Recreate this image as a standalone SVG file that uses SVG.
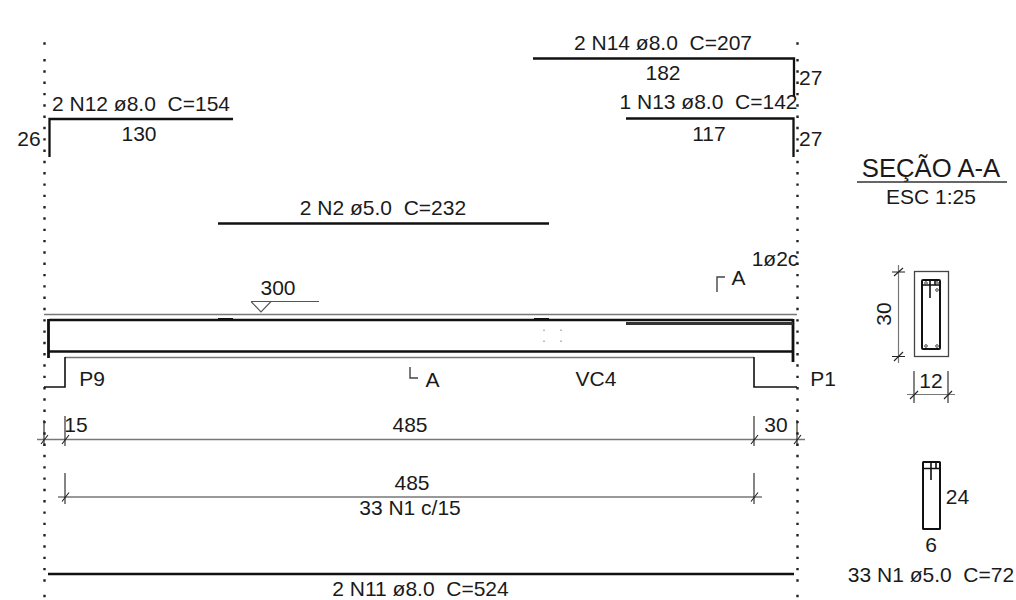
<svg xmlns="http://www.w3.org/2000/svg" width="1016" height="600" viewBox="0 0 1016 600">
<style>
text{font-family:"Liberation Sans",Arial,sans-serif;font-size:21px;fill:#1a1a1a;text-anchor:middle;white-space:pre}
.l{text-anchor:start}
.h{stroke:#111;stroke-width:2.300;fill:none}
.t{stroke:#111;stroke-width:1.600;fill:none}
.g{stroke:#777;stroke-width:1.600;fill:none}
.d{stroke:#444;stroke-width:1.400;fill:none}
.k{stroke:#222;stroke-width:1.100;fill:none}
.dots{stroke:#222;stroke-width:2.400;stroke-dasharray:2.400 8.910;fill:none}
.fd{stroke:#999;stroke-width:1.300;fill:none}
</style>
<rect width="1016" height="600" fill="#fff"/>
<g id="grid-lines">
<path class="dots" d="M44.500 59V586M797.500 59V586"/>
<path class="dots" style="stroke-dasharray:none" d="M44.500 42.300V44.700M797.500 42.300V44.700M44.500 594.800V597.200M797.500 594.800V597.200"/>
<path class="fd" d="M544 329.500v1.500M544 340.500v1.500M561 329.500v1.500M561 340.500v1.500"/>
</g>
<g id="beam">
<path class="g" d="M44 314.500H797"/>
<path class="g" d="M65 357.500H754"/>
<path class="t" d="M65 357V387H44M754 357V387H797"/>
<path class="h" d="M49 320H793M49 351.500H793"/>
<path class="h" style="stroke-width:2.800" d="M48.500 319V358M793 319V362"/>
<path class="h" style="stroke-width:3" d="M218 319.500H233M534 319.500H549"/>
<path d="M626 323.500H793" stroke="#333" stroke-width="3.200" fill="none"/>
</g>
<g id="level-300">
<path class="k" style="stroke:#555" d="M251 301.500H319M251 301.500L261 312L271 301.500"/>
<text x="278" y="295">300</text>
</g>
<g id="cut-marks">
<path class="d" d="M717 292V277H725M410 367V378H418"/>
<text x="738.500" y="285">A</text>
<text x="432.500" y="387">A</text>
</g>
<g id="labels">
<text x="92" y="386">P9</text>
<text x="596" y="386">VC4</text>
<text x="823" y="386">P1</text>
<text x="775" y="266">1ø2c</text>
</g>
<g id="N14">
<path class="h" d="M533 58.500H794V97"/>
<text x="663" y="50">2 N14 ø8.0  C=207</text>
<text x="663" y="80">182</text>
<text class="l" x="799" y="85">27</text>
</g>
<g id="N13">
<path class="h" d="M626 118.500H793.500V157"/>
<text x="708.500" y="109">1 N13 ø8.0  C=142</text>
<text x="709" y="141">117</text>
<text class="l" x="799" y="146">27</text>
</g>
<g id="N12">
<path class="h" d="M233 119H49.500V157"/>
<text x="141" y="111">2 N12 ø8.0  C=154</text>
<text x="139" y="141">130</text>
<text x="29" y="146">26</text>
</g>
<g id="N2">
<path class="h" d="M218 223.500H549"/>
<text x="383" y="215">2 N2 ø5.0  C=232</text>
</g>
<g id="N11">
<path class="h" d="M48 574H794"/>
<text x="420.500" y="596">2 N11 ø8.0  C=524</text>
</g>
<g id="connectors">
<path class="g" style="stroke-width:1.300" d="M37 439.500H805"/>
<path class="k" d="M65 416V446M754 416V446M797 420V446M44 420V446"/>
<path class="k" d="M41 444L48 435M62 444L69 435M751 444L758 435M794 444L801 435"/>
<path class="g" style="stroke-width:1.300" d="M58 497H762"/>
<path class="k" d="M65 473V504M754 473V504"/>
<path class="k" d="M62 501.500L69 492.500M751 501.500L758 492.500"/>
</g>
<g id="dim-texts">
<text x="76" y="432">15</text>
<text x="410" y="432">485</text>
<text x="776" y="432">30</text>
<text x="412" y="490">485</text>
<text x="410" y="515">33 N1 c/15</text>
</g>
<g id="section-title">
<text x="931" y="177" style="font-size:25.700px">SEÇÃO A-A</text>
<path d="M857 182H1007" stroke="#333" stroke-width="1.300"/>
<text x="931" y="204">ESC 1:25</text>
</g>
<g id="section-aa">
<rect class="k" style="stroke:#444;stroke-width:1.300" x="914.500" y="271.500" width="34" height="85"/>
<rect class="t" style="stroke-width:2" x="922" y="280" width="18" height="69" rx="1"/>
<path class="t" d="M922 285H940M930 280V298M935 280V285"/>
<g fill="none" stroke="#444" stroke-width="1">
<circle cx="926" cy="283" r="1.300"/><circle cx="937" cy="283" r="1.300"/><circle cx="937" cy="290" r="1.300"/><circle cx="926" cy="346" r="1.300"/><circle cx="937" cy="346" r="1.300"/>
</g>
<path class="g" style="stroke-width:1.200" d="M898.500 265V363"/>
<path class="k" d="M892 272H905M892 356.500H905M894 276L903 268M894 361L903 352"/>
<text transform="translate(891 314) rotate(-90)">30</text>
<path class="k" d="M914 371V403M948 371V403"/>
<path class="g" style="stroke-width:1.200" d="M907 394.500H955"/>
<path class="k" d="M910 399L918 391M944 399L952 391"/>
<text x="931" y="388">12</text>
</g>
<g id="stirrup-N1">
<rect x="923" y="462" width="17" height="67" fill="none" stroke="#111" stroke-width="2" rx="0.500"/>
<path class="t" d="M923 468.500H940M931 462V480M936 462V469"/>
<text x="957.500" y="504">24</text>
<text x="931" y="552">6</text>
<text x="931" y="582">33 N1 ø5.0  C=72</text>
</g>
</svg>
